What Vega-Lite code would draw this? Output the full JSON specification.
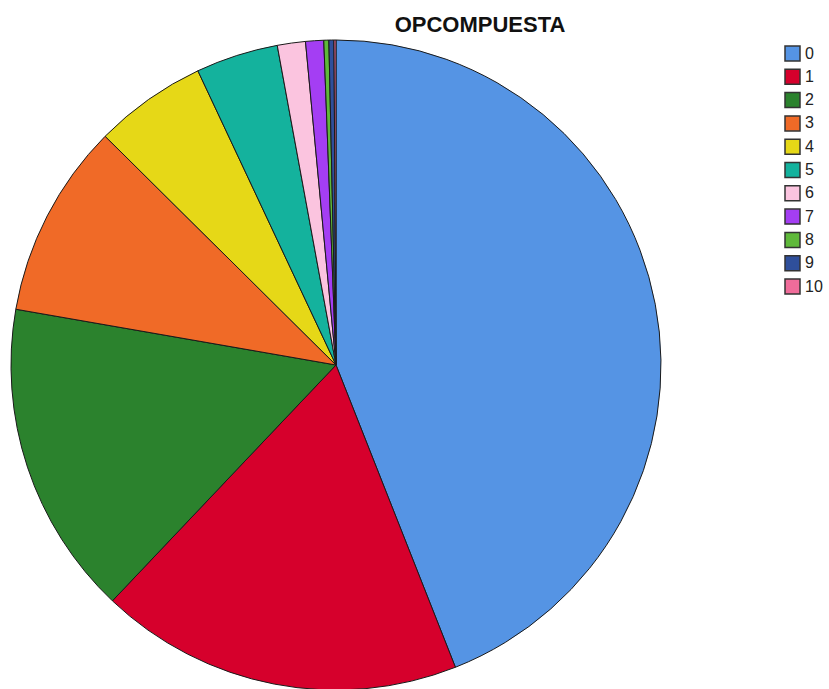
{
  "$schema": "https://vega.github.io/schema/vega-lite/v6.json",
  "autosize": "none",
  "padding": {"left": 10, "top": 40, "right": 167, "bottom": 0},
  "width": 652,
  "height": 650,
  "title": {"text": "OPCOMPUESTA", "font": "Liberation Sans", "fontSize": 22, "fontWeight": "bold", "color": "#111111", "anchor": "middle", "dx": 144, "offset": 1},
  "data": {"values": [
    {"cat": "0", "order": 0, "value": 44.1},
    {"cat": "1", "order": 1, "value": 18.1},
    {"cat": "2", "order": 2, "value": 15.7},
    {"cat": "3", "order": 3, "value": 9.7},
    {"cat": "4", "order": 4, "value": 5.6},
    {"cat": "5", "order": 5, "value": 4.1},
    {"cat": "6", "order": 6, "value": 1.4},
    {"cat": "7", "order": 7, "value": 0.9},
    {"cat": "8", "order": 8, "value": 0.25},
    {"cat": "9", "order": 9, "value": 0.25},
    {"cat": "10", "order": 10, "value": 0.1}
  ]},
  "mark": {"type": "arc", "stroke": "#1a1a1a", "strokeWidth": 1},
  "encoding": {
    "theta": {"field": "value", "type": "quantitative", "stack": true},
    "order": {"field": "order", "type": "quantitative"},
    "color": {
      "field": "cat", "type": "nominal",
      "sort": ["0","1","2","3","4","5","6","7","8","9","10"],
      "scale": {
        "domain": ["0","1","2","3","4","5","6","7","8","9","10"],
        "range": ["#5594E4","#D6002C","#2B822D","#F06A27","#E6D817","#14B29D","#FBC4DF","#A43EF3","#5FB93A","#2F4F9B","#F06C9A"]
      },
      "legend": {
        "title": null, "orient": "none", "legendX": 774, "legendY": 5,
        "symbolType": "square", "symbolSize": 225, "symbolStrokeColor": "#333333", "symbolStrokeWidth": 1.5,
        "labelFont": "Liberation Sans", "labelFontSize": 16, "labelColor": "#222222",
        "rowPadding": 2.3, "labelOffset": 4
      }
    }
  }
}
